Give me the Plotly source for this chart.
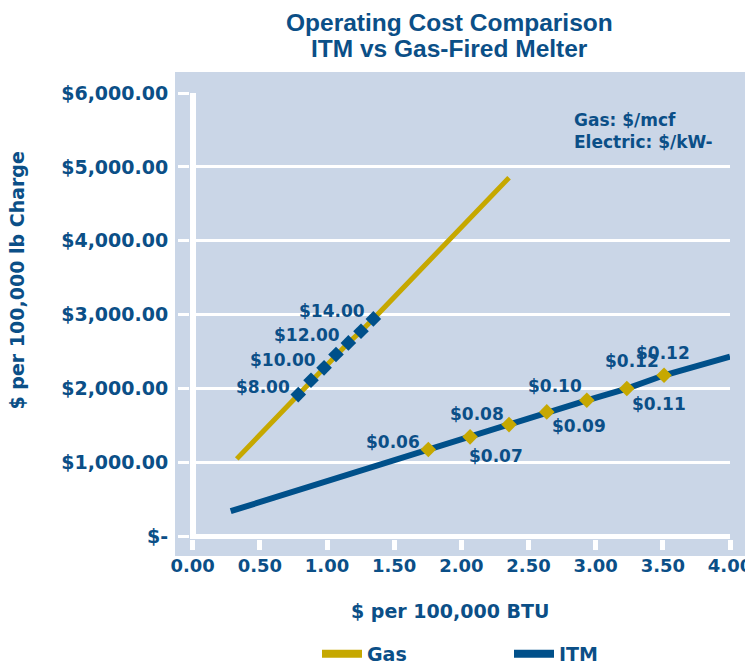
import plotly.graph_objects as go

# ---------------- data ----------------
# Gas-fired melter: cost line ($ per 100,000 BTU -> $ per 100,000 lb charge)
gas_start = (0.328, 1047)
gas_end = (2.355, 4854)
gas_marker_x = [0.786, 0.881, 0.978, 1.067, 1.159, 1.253, 1.345]
gas_marker_y = [1917, 2111, 2279, 2459, 2617, 2774, 2942]
gas_marker_labels = ["$8.00", "", "$10.00", "", "$12.00", "", "$14.00"]

# ITM (electric) line
itm_start = (0.283, 338)
itm_end = (4.0, 2430)
itm_marker_x = [1.754, 2.065, 2.355, 2.636, 2.934, 3.232, 3.509]
itm_marker_y = [1173, 1345, 1511, 1683, 1840, 1999, 2179]
itm_marker_labels = ["$0.06", "$0.07", "$0.08", "$0.09", "$0.10", "$0.11", "$0.12"]
itm_extra_label = "$0.12"

x_tick_vals = [0, 0.5, 1.0, 1.5, 2.0, 2.5, 3.0, 3.5, 4.0]
x_tick_text = ["0.00", "0.50", "1.00", "1.50", "2.00", "2.50", "3.00", "3.50", "4.00"]
y_tick_vals = [0, 1000, 2000, 3000, 4000, 5000, 6000]
y_tick_text = ["$-", "$1,000.00", "$2,000.00", "$3,000.00", "$4,000.00", "$5,000.00", "$6,000.00"]

title_lines = ["Operating Cost Comparison", "ITM vs Gas-Fired Melter"]
x_title = "$ per 100,000 BTU"
y_title = "$ per 100,000 lb Charge"
note_text = "Gas: $/mcf<br>Electric: $/kW-"

# ---------------- style ----------------
NAVY = "#0B4F87"
LINE_NAVY = "#00508A"
GOLD = "#C6A800"
BG = "#CAD6E7"
FONT = "DejaVu Sans"

PAGE_OFF = 8  # default page body margin
W, H = 753 - PAGE_OFF, 662 - PAGE_OFF
L, T = 190 - PAGE_OFF, 93 - PAGE_OFF
PW, PH = 540, 446
R, B = W - L - PW, H - T - PH


def px_x(p):  # window pixel -> paper x
    return (p - PAGE_OFF - L) / PW


def px_y(p):  # window pixel -> paper y
    return (T + PH - (p - PAGE_OFF)) / PH


fig = go.Figure()

fig.add_trace(go.Scatter(
    x=[gas_start[0]] + gas_marker_x + [gas_end[0]],
    y=[gas_start[1]] + gas_marker_y + [gas_end[1]],
    mode="lines", line=dict(color=GOLD, width=5), showlegend=False, name="Gas"))
fig.add_trace(go.Scatter(
    x=[itm_start[0]] + itm_marker_x + [itm_end[0]],
    y=[itm_start[1]] + itm_marker_y + [itm_end[1]],
    mode="lines", line=dict(color=LINE_NAVY, width=6), showlegend=False, name="ITM"))
fig.add_trace(go.Scatter(
    x=gas_marker_x, y=gas_marker_y, mode="markers",
    marker=dict(symbol="diamond", size=12, color=LINE_NAVY, line=dict(width=0)),
    showlegend=False))
fig.add_trace(go.Scatter(
    x=itm_marker_x, y=itm_marker_y, mode="markers",
    marker=dict(symbol="diamond", size=12, color=GOLD, line=dict(width=0)),
    showlegend=False))
# legend entries
fig.add_trace(go.Scatter(x=[None], y=[None], mode="lines",
                         line=dict(color=GOLD, width=8), name="Gas"))
fig.add_trace(go.Scatter(x=[None], y=[None], mode="lines",
                         line=dict(color=LINE_NAVY, width=8), name="ITM"))

lab_font = dict(family=FONT, size=17, color=NAVY, weight="bold")
annotations = []
for xv, yv, t in zip(gas_marker_x, gas_marker_y, gas_marker_labels):
    if t:
        annotations.append(dict(x=xv, y=yv, xref="x", yref="y", text=t, showarrow=False,
                                xanchor="right", yanchor="middle", xshift=-6, yshift=8,
                                font=lab_font))
itm_offsets = [(-6, 8), (-3, -19), (-3, 11), (3, -14), (-3, 14), (3, -15), (-3, 14)]
for i, (xv, yv, t) in enumerate(zip(itm_marker_x, itm_marker_y, itm_marker_labels)):
    dx, dy = itm_offsets[i]
    annotations.append(dict(x=xv, y=yv, xref="x", yref="y", text=t, showarrow=False,
                            xanchor="right" if i % 2 == 0 else "left", yanchor="middle",
                            xshift=dx, yshift=dy, font=lab_font))
annotations.append(dict(x=itm_marker_x[-1], y=itm_marker_y[-1], xref="x", yref="y",
                        text=itm_extra_label, showarrow=False, xanchor="center",
                        yanchor="middle", xshift=-1, yshift=22, font=lab_font))

# titles & notes
title_font = dict(family="Liberation Sans", size=24.5, color=NAVY, weight="bold")
annotations.append(dict(x=px_x(449), y=px_y(22.5), xref="paper", yref="paper",
                        text=title_lines[0], showarrow=False, xanchor="center", yanchor="middle",
                        font=title_font))
annotations.append(dict(x=px_x(449), y=px_y(48.7), xref="paper", yref="paper",
                        text=title_lines[1], showarrow=False, xanchor="center", yanchor="middle",
                        font=title_font))
annotations.append(dict(x=px_x(450), y=px_y(611), xref="paper", yref="paper",
                        text=x_title, showarrow=False, xanchor="center", yanchor="middle",
                        font=dict(family=FONT, size=19, color=NAVY, weight="bold")))
annotations.append(dict(x=px_x(16.5), y=px_y(281), xref="paper", yref="paper",
                        text=y_title, showarrow=False, xanchor="center", yanchor="middle",
                        textangle=-90,
                        font=dict(family=FONT, size=19, color=NAVY, weight="bold")))
annotations.append(dict(x=px_x(572), y=px_y(131), xref="paper", yref="paper",
                        text=note_text, showarrow=False, xanchor="left", yanchor="middle",
                        align="left",
                        font=dict(family=FONT, size=17, color=NAVY, weight="bold")))

fig.update_layout(
    width=W, height=H,
    margin=dict(l=L, r=R, t=T, b=B, autoexpand=False),
    paper_bgcolor="white", plot_bgcolor=BG,
    annotations=annotations,
    shapes=[dict(type="rect", xref="paper", yref="paper", layer="below",
                 x0=px_x(175), x1=px_x(749), y0=px_y(556), y1=px_y(72),
                 fillcolor=BG, line=dict(width=0))],
    showlegend=True,
    legend=dict(orientation="h", x=px_x(317), y=px_y(635), xanchor="left", yanchor="top",
                font=dict(family=FONT, size=19, color=NAVY, weight="bold"),
                bgcolor="rgba(0,0,0,0)", entrywidth=137, itemwidth=40),
    xaxis=dict(range=[-0.02, 4], tickvals=x_tick_vals, ticktext=x_tick_text,
               showgrid=False, zeroline=True, zerolinecolor="white", zerolinewidth=6,
               showline=False,
               ticks="outside", ticklen=10, tickwidth=5, tickcolor="white",
               tickfont=dict(family=FONT, size=18, color=NAVY, weight="bold")),
    yaxis=dict(range=[-38, 6000], tickvals=y_tick_vals, ticktext=y_tick_text,
               showgrid=True, gridcolor="white", gridwidth=3,
               zeroline=True, zerolinecolor="white", zerolinewidth=5,
               showline=False,
               ticks="outside", ticklen=11, tickwidth=3, tickcolor="white",
               ticklabelstandoff=6,
               tickfont=dict(family=FONT, size=19, color=NAVY, weight="bold")),
)

fig.write_html("out.html")
